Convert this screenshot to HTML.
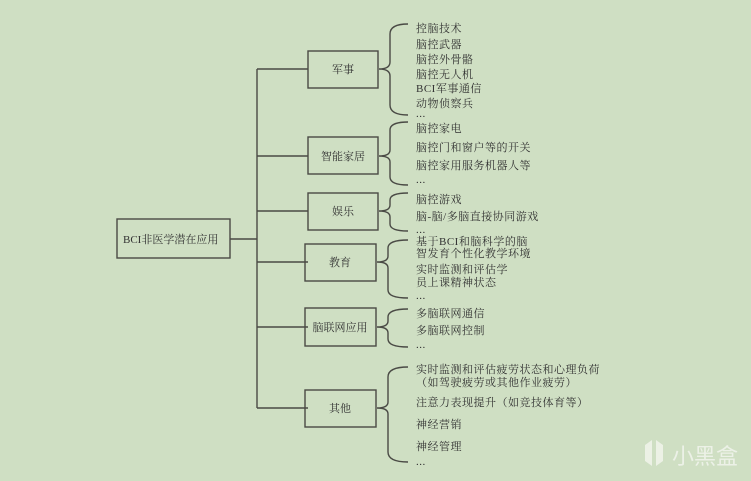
<!DOCTYPE html>
<html><head><meta charset="utf-8"><style>
html,body{margin:0;padding:0;background:#cfdfc3;}
svg{display:block;}
text{font-family:"Liberation Serif","Noto Serif CJK SC","Noto Sans CJK SC",serif;font-size:11px;fill:#333;}
.it{letter-spacing:0.5px;}
</style></head><body>
<svg width="751" height="481" viewBox="0 0 751 481" xmlns="http://www.w3.org/2000/svg">
<rect width="751" height="481" fill="#cfdfc3"/>
<g fill="none" stroke="#4a4a45" stroke-width="1.4">
<rect x="117" y="219" width="113" height="39"/>
<line x1="230" y1="239" x2="257" y2="239"/>
<line x1="257" y1="69" x2="257" y2="408"/>
<line x1="257" y1="69" x2="308" y2="69"/>
<line x1="257" y1="156" x2="308" y2="156"/>
<line x1="257" y1="211" x2="308" y2="211"/>
<line x1="257" y1="262" x2="308" y2="262"/>
<line x1="257" y1="327" x2="308" y2="327"/>
<line x1="257" y1="408" x2="308" y2="408"/>
<rect x="308" y="51" width="70" height="37"/>
<rect x="308" y="137" width="70" height="37"/>
<rect x="308" y="193" width="70" height="37"/>
<rect x="305" y="244" width="71" height="37"/>
<rect x="305" y="308" width="71" height="38"/>
<rect x="305" y="390" width="71" height="37"/>
<path d="M408 24 Q390 24 390 34 L390 62 Q390 69 379 69 Q390 69 390 76 L390 105 Q390 115 408 115"/>
<path d="M408 122 Q390 122 390 130 L390 150 Q390 156 379 156 Q390 156 390 162 L390 177 Q390 185 408 185"/>
<path d="M408 193 Q390 193 390 200 L390 205 Q390 211 379 211 Q390 211 390 217 L390 224 Q390 231 408 231"/>
<path d="M408 240 Q388 240 388 248 L388 256 Q388 262 377 262 Q388 262 388 268 L388 290 Q388 298 408 298"/>
<path d="M408 309 Q388 309 388 317 L388 321 Q388 327 377 327 Q388 327 388 333 L388 339 Q388 347 408 347"/>
<path d="M408 367 Q388 367 388 377 L388 402 Q388 408 377 408 Q388 408 388 414 L388 452 Q388 462 408 462"/>
</g>
<text x="123" y="243">BCI非医学潜在应用</text>
<text x="343" y="73" text-anchor="middle">军事</text>
<text x="343" y="160" text-anchor="middle">智能家居</text>
<text x="343" y="215" text-anchor="middle">娱乐</text>
<text x="340" y="266" text-anchor="middle">教育</text>
<text x="340" y="331" text-anchor="middle">脑联网应用</text>
<text x="340" y="412" text-anchor="middle">其他</text>
<g class="it">
<text x="416" y="32">控脑技术</text>
<text x="416" y="48">脑控武器</text>
<text x="416" y="63">脑控外骨骼</text>
<text x="416" y="78">脑控无人机</text>
<text x="416" y="92">BCI军事通信</text>
<text x="416" y="107">动物侦察兵</text>
<text x="416" y="117">...</text>
<text x="416" y="132">脑控家电</text>
<text x="416" y="151">脑控门和窗户等的开关</text>
<text x="416" y="169">脑控家用服务机器人等</text>
<text x="416" y="183">...</text>
<text x="416" y="203">脑控游戏</text>
<text x="416" y="220">脑-脑/多脑直接协同游戏</text>
<text x="416" y="233">...</text>
<text x="416" y="245">基于BCI和脑科学的脑</text>
<text x="416" y="257">智发育个性化教学环境</text>
<text x="416" y="273">实时监测和评估学</text>
<text x="416" y="286">员上课精神状态</text>
<text x="416" y="299">...</text>
<text x="416" y="317">多脑联网通信</text>
<text x="416" y="334">多脑联网控制</text>
<text x="416" y="348">...</text>
<text x="416" y="373">实时监测和评估疲劳状态和心理负荷</text>
<text x="416" y="386">（如驾驶疲劳或其他作业疲劳）</text>
<text x="416" y="406">注意力表现提升（如竞技体育等）</text>
<text x="416" y="428">神经营销</text>
<text x="416" y="450">神经管理</text>
<text x="416" y="465">...</text>
</g>
<text x="672" y="464" style="font-family:'Noto Sans CJK SC',sans-serif;font-size:22px;fill:#f2f5ee;opacity:0.85">小黑盒</text>
<path d="M645 445 L652 440 L652 466 L645 461 Z M656 440 L663 445 L663 461 L656 466 Z" fill="#f2f5ee" opacity="0.8"/>
</svg>
</body></html>
